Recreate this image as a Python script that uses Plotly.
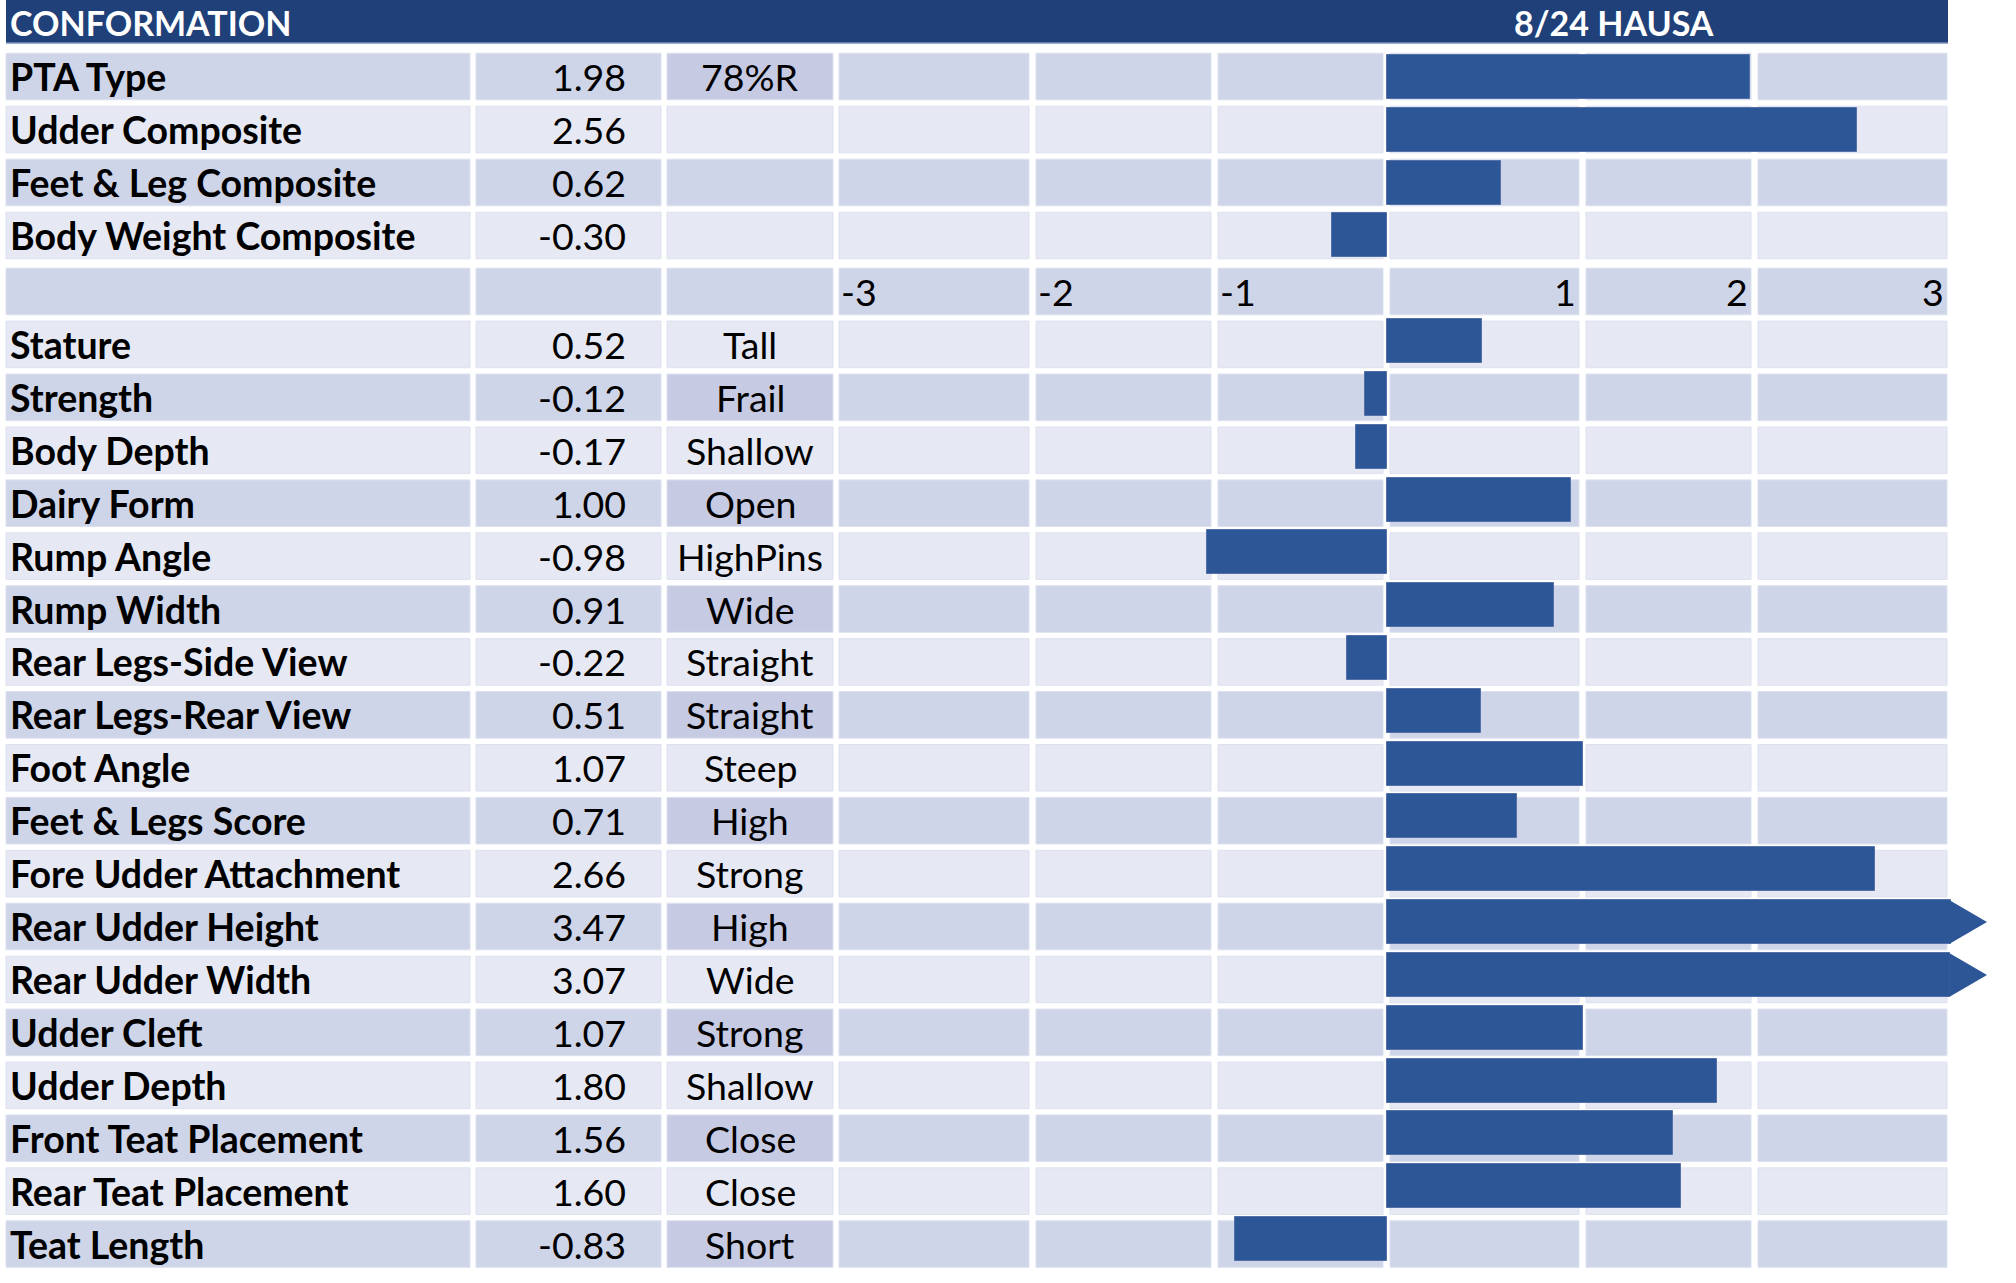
import plotly.graph_objects as go

# ---------------- data ----------------
title_left = "CONFORMATION"
title_right = "8/24 HAUSA"

composite_names = ["PTA Type", "Udder Composite", "Feet & Leg Composite", "Body Weight Composite"]
composite_values = [1.98, 2.56, 0.62, -0.30]
composite_notes = ["78%R", "", "", ""]

linear_names = ["Stature", "Strength", "Body Depth", "Dairy Form", "Rump Angle", "Rump Width",
                "Rear Legs-Side View", "Rear Legs-Rear View", "Foot Angle", "Feet & Legs Score",
                "Fore Udder Attachment", "Rear Udder Height", "Rear Udder Width", "Udder Cleft",
                "Udder Depth", "Front Teat Placement", "Rear Teat Placement", "Teat Length"]
linear_values = [0.52, -0.12, -0.17, 1.00, -0.98, 0.91, -0.22, 0.51, 1.07, 0.71,
                 2.66, 3.47, 3.07, 1.07, 1.80, 1.56, 1.60, -0.83]
linear_notes = ["Tall", "Frail", "Shallow", "Open", "HighPins", "Wide", "Straight", "Straight",
                "Steep", "High", "Strong", "High", "Wide", "Strong", "Shallow", "Close", "Close", "Short"]

axis_tick_labels = ["-3", "-2", "-1", "1", "2", "3"]

# ---------------- layout geometry (pixels) ----------------
W, H = 2016, 1283
ZERO_PX, UNIT_PX = 1387.0, 183.5
CELL_HALF = 23.3
BAR_Y0, BAR_PITCH, BAR_H = 77.0, 52.82, 44.0
CAP_PX, ARROW_PX = 1951.0, 36.0

FONT = "Lato"
FS = 37.5
FS_HEAD = 34
DARK, LIGHT, NOTE_DARK = "#CFD5E8", "#E6E9F3", "#C6CAE3"
HEADER = "#1F4079"
BAR = "#2D5696"

label_col = (6, 470)
value_col = (476, 661)
note_col = (667, 833)
bar_cols = [(839, 1029), (1036, 1211), (1218, 1383), (1390, 1579), (1586, 1751), (1758, 1947)]


def row_center(r):
    # table rows (cells): the first block is slightly more widely spaced
    if r <= 3:
        return 76.5 + 53.0 * r
    return 291.5 + 52.92 * (r - 4)


def xp(px):
    return px / W


AXIS_ROW = len(composite_names)
names = composite_names + linear_names
values = composite_values + linear_values
notes = composite_notes + linear_notes
rows = list(range(len(composite_names))) + [AXIS_ROW + 1 + i for i in range(len(linear_names))]
n_rows = len(names) + 1

cap = (CAP_PX - ZERO_PX) / UNIT_PX
arrow_len = ARROW_PX / UNIT_PX

shapes = []
annotations = []

# header band
shapes.append(dict(type="rect", xref="paper", yref="y", x0=xp(6), x1=xp(1948),
                   y0=0, y1=43, fillcolor=HEADER, line_width=0, layer="below"))
shapes.append(dict(type="line", xref="paper", yref="y", x0=xp(6), x1=xp(1948),
                   y0=43, y1=43, line=dict(color="#7D90BA", width=1.5), layer="below"))
annotations.append(dict(text=f"<b>{title_left}</b>", xref="paper", yref="y", x=xp(8), y=22,
                        xanchor="left", yanchor="middle", showarrow=False,
                        font=dict(family=FONT, size=FS_HEAD, color="white")))
annotations.append(dict(text=f"<b>{title_right}</b>", xref="paper", yref="y", x=xp(1614), y=22,
                        xanchor="center", yanchor="middle", showarrow=False,
                        font=dict(family=FONT, size=FS_HEAD, color="white")))

# table cells
all_cols = [label_col, value_col, note_col] + bar_cols
note_by_row = {r: n for r, n in zip(rows, notes)}
for r in range(n_rows):
    base = DARK if r % 2 == 0 else LIGHT
    c = row_center(r)
    for ci, (a, b) in enumerate(all_cols):
        color = base
        if ci == 2 and r % 2 == 0 and note_by_row.get(r, ""):
            color = NOTE_DARK
        shapes.append(dict(type="rect", xref="paper", yref="y", x0=xp(a), x1=xp(b),
                           y0=c - CELL_HALF, y1=c + CELL_HALF, fillcolor=color,
                           line=dict(color="#DDE1EF", width=1), layer="below"))

# row texts
for r, nm, v, nt in zip(rows, names, values, notes):
    c = row_center(r)
    annotations.append(dict(text=f"<b>{nm}</b>", xref="paper", yref="y", x=xp(8), y=c,
                            xanchor="left", yanchor="middle", showarrow=False,
                            font=dict(family=FONT, size=FS, color="black")))
    annotations.append(dict(text=f"{v:.2f}", xref="paper", yref="y", x=xp(628), y=c,
                            xanchor="right", yanchor="middle", showarrow=False,
                            font=dict(family=FONT, size=FS, color="black")))
    if nt:
        annotations.append(dict(text=nt, xref="paper", yref="y", x=xp((note_col[0] + note_col[1]) / 2), y=c,
                                xanchor="center", yanchor="middle", showarrow=False,
                                font=dict(family=FONT, size=FS, color="black")))

# axis row labels
for lab, (a, b) in zip(axis_tick_labels, bar_cols):
    neg = lab.startswith("-")
    annotations.append(dict(text=lab, xref="paper", yref="y", x=xp(a) if neg else xp(b - 1),
                            y=row_center(AXIS_ROW),
                            xanchor="left" if neg else "right", yanchor="middle", showarrow=False,
                            font=dict(family=FONT, size=FS, color="black")))

bar_y = [BAR_Y0 + BAR_PITCH * r for r in rows]

fig = go.Figure()
fig.add_trace(go.Bar(x=[min(v, cap) for v in values], y=bar_y, orientation="h",
                     width=BAR_H,
                     marker=dict(color=BAR, line=dict(color="#5470A8", width=1)),
                     hoverinfo="skip", showlegend=False))

# arrow heads for values beyond the scale
for y, v in zip(bar_y, values):
    if v > 3:
        top, bot = y - BAR_H / 2, y + BAR_H / 2
        fig.add_trace(go.Scatter(x=[cap - 0.01, cap + arrow_len, cap - 0.01, cap - 0.01],
                                 y=[top, y, bot, top], mode="lines", fill="toself",
                                 fillcolor=BAR, line=dict(width=0, color=BAR),
                                 hoverinfo="skip", showlegend=False))

fig.update_layout(
    width=W, height=H, margin=dict(l=0, r=0, t=0, b=0),
    paper_bgcolor="white", plot_bgcolor="white",
    xaxis=dict(range=[-ZERO_PX / UNIT_PX, (W - ZERO_PX) / UNIT_PX], domain=[0, 1],
               visible=False, fixedrange=True),
    yaxis=dict(range=[H, 0], domain=[0, 1], visible=False, fixedrange=True),
    shapes=shapes, annotations=annotations, bargap=0,
)

fig.write_html("out.html")
